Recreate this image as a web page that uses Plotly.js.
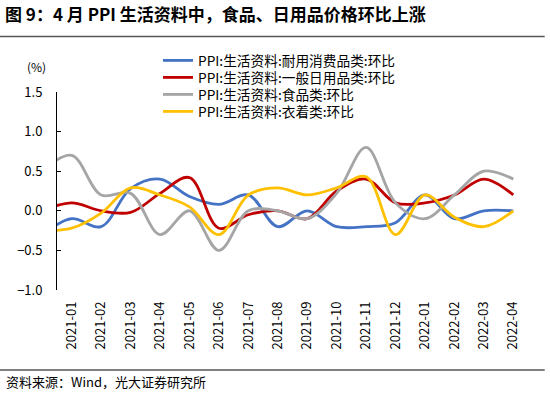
<!DOCTYPE html>
<html>
<head>
<meta charset="utf-8">
<script src="https://cdn.plot.ly/plotly-3.0.1.min.js"></script>
<style>html,body{margin:0;padding:0;background:#fff;}#chart{width:550px;height:393px;}</style>
</head>
<body>
<div id="chart"></div>
<script>
// Months (2020-12 is only partly visible at the left edge of the plot)
const months = ['2020-12','2021-01','2021-02','2021-03','2021-04','2021-05','2021-06','2021-07','2021-08','2021-09','2021-10','2021-11','2021-12','2022-01','2022-02','2022-03','2022-04'];
const seriesNames = ['PPI:生活资料:耐用消费品类:环比','PPI:生活资料:一般日用品类:环比','PPI:生活资料:食品类:环比','PPI:生活资料:衣着类:环比'];
const durable  = [-0.30, -0.10, -0.20, 0.28, 0.40, 0.18, 0.08, 0.20, -0.20, 0.00, -0.20, -0.20, -0.15, 0.20, -0.10, 0.00, 0.00];
const daily    = [ 0.00,  0.10,  0.00, -0.02, 0.22, 0.42, -0.22, -0.05, 0.00, -0.10, 0.25, 0.40, 0.10, 0.10, 0.20, 0.40, 0.20];
const food     = [ 0.50,  0.70,  0.20, 0.22, -0.30, 0.00, -0.50, 0.00, 0.00, -0.10, 0.22, 0.80, 0.10, -0.10, 0.20, 0.50, 0.40];
const clothing = [-0.25, -0.22, -0.03, 0.29, 0.20, 0.05, -0.30, 0.20, 0.29, 0.20, 0.29, 0.43, -0.30, 0.20, -0.08, -0.20, 0.00];
const colors = ['#4472C4','#C00000','#A5A5A5','#FFC000'];
const yTicks = [-1.0, -0.5, 0.0, 0.5, 1.0, 1.5];

const FONT = '"Noto Sans CJK SC", "Noto Sans", sans-serif';
const allSeries = [durable, daily, food, clothing];
const legendIds = ['legend','legend2','legend3','legend4'];
const traces = allSeries.map((vals, i) => ({
  type: 'scatter', mode: 'lines', name: seriesNames[i],
  x: months, y: vals, legend: legendIds[i],
  line: {color: colors[i], width: 2.8, shape: 'spline', smoothing: 1},
  hoverinfo: 'skip'
}));

const layout = {
  width: 550, height: 393,
  margin: {l: 57.3, r: 21.7, t: 92, b: 103, autoexpand: false},
  paper_bgcolor: '#fff', plot_bgcolor: '#fff',
  font: {family: FONT, size: 13, color: '#000'},
  showlegend: true,
  title: {
    text: '图 9：4 月 PPI 生活资料中，食品、日用品价格环比上涨',
    font: {family: FONT, size: 17, color: '#000', weight: 'bold'},
    xref: 'container', yref: 'container', x: 5/550, xanchor: 'left', y: 1 - 15/393, yanchor: 'middle'
  },
  xaxis: {
    type: 'category', categoryorder: 'array', categoryarray: months,
    range: [0.5, 16.5], showline: false, ticks: '', showgrid: false, zeroline: false,
    tickangle: -90, tickfont: {family: FONT, size: 13, color: '#000'}, ticklabelstandoff: 8,
    fixedrange: true
  },
  xaxis2: {
    type: 'category', categoryorder: 'array', categoryarray: months,
    range: [0.5, 16.5], overlaying: 'x', anchor: 'free', position: 0.4, side: 'bottom',
    showline: true, linecolor: '#000', linewidth: 1, ticks: 'inside', tickson: 'boundaries',
    ticklen: 4, tickcolor: '#000', showticklabels: false, showgrid: false, zeroline: false
  },
  yaxis: {
    range: [-1.0, 1.5], tickvals: yTicks, tickformat: '.1f',
    showline: true, linecolor: '#000', linewidth: 1, ticks: 'inside', ticklen: 4, tickcolor: '#000',
    showgrid: false, zeroline: false, tickfont: {family: FONT, size: 13, color: '#000'},
    ticklabelstandoff: 11, fixedrange: true
  },
  annotations: [
    {text: '(%)', xref: 'paper', yref: 'paper', x: (37 - 57.3)/471, y: (290 - 66)/198, xanchor: 'center', yanchor: 'middle', showarrow: false, font: {family: FONT, size: 12, color: '#000'}},
    {text: '资料来源：Wind，光大证券研究所', xref: 'paper', yref: 'paper', x: (4 - 57.3)/471, y: (290 - 381)/198, xanchor: 'left', yanchor: 'middle', showarrow: false, font: {family: FONT, size: 13, color: '#000'}}
  ],
  shapes: [
    {type: 'line', xref: 'paper', yref: 'paper', x0: -57.3/471, x1: (545 - 57.3)/471, y0: (290 - 36.5)/198, y1: (290 - 36.5)/198, line: {color: '#555', width: 1.5}},
    {type: 'line', xref: 'paper', yref: 'paper', x0: -57.3/471, x1: (545 - 57.3)/471, y0: (290 - 370)/198, y1: (290 - 370)/198, line: {color: '#000', width: 1.2}}
  ]
};
// one legend box per series, stacked at the reference's 17 px spacing
legendIds.forEach((id, i) => {
  layout[id] = {
    xref: 'container', yref: 'container', x: 158/550, y: 1 - (45 + 17*i)/393, xanchor: 'left', yanchor: 'top',
    font: {family: FONT, size: 13.7, color: '#000'}, bgcolor: 'rgba(0,0,0,0)', itemwidth: 30
  };
});

Plotly.newPlot('chart', traces, layout, {staticPlot: true, displayModeBar: false});
</script>
</body>
</html>
